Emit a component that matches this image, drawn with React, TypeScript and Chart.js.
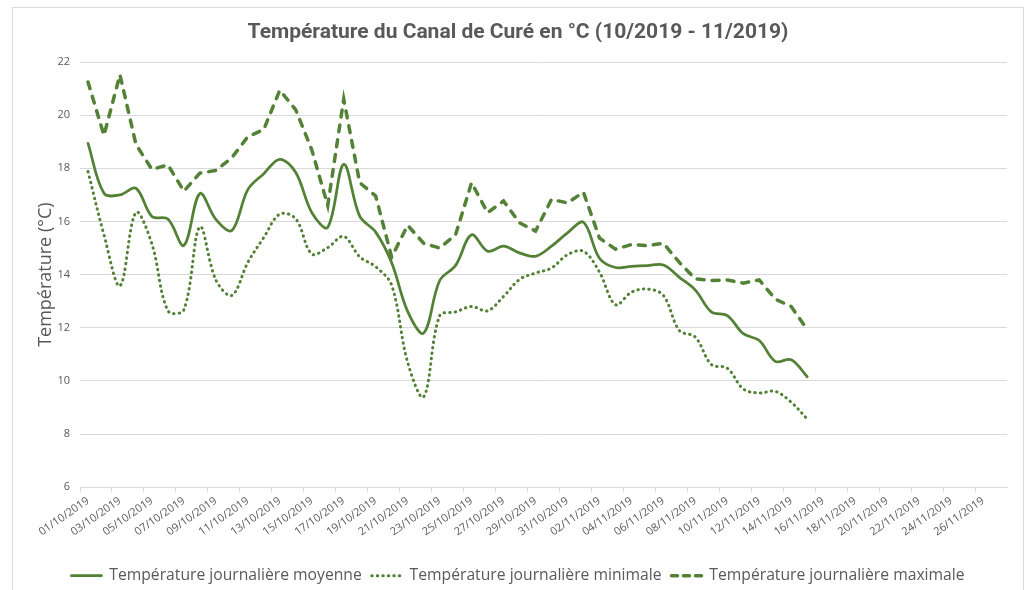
import React, { useEffect, useRef } from "react";
import { Chart, registerables } from "chart.js";

Chart.register(...registerables);

const dates = [
  "01/10/2019", "02/10/2019", "03/10/2019", "04/10/2019", "05/10/2019", "06/10/2019",
  "07/10/2019", "08/10/2019", "09/10/2019", "10/10/2019", "11/10/2019", "12/10/2019",
  "13/10/2019", "14/10/2019", "15/10/2019", "16/10/2019", "17/10/2019", "18/10/2019",
  "19/10/2019", "20/10/2019", "21/10/2019", "22/10/2019", "23/10/2019", "24/10/2019",
  "25/10/2019", "26/10/2019", "27/10/2019", "28/10/2019", "29/10/2019", "30/10/2019",
  "31/10/2019", "01/11/2019", "02/11/2019", "03/11/2019", "04/11/2019", "05/11/2019",
  "06/11/2019", "07/11/2019", "08/11/2019", "09/11/2019", "10/11/2019", "11/11/2019",
  "12/11/2019", "13/11/2019", "14/11/2019", "15/11/2019", "16/11/2019", "17/11/2019",
  "18/11/2019", "19/11/2019", "20/11/2019", "21/11/2019", "22/11/2019", "23/11/2019",
  "24/11/2019", "25/11/2019", "26/11/2019", "27/11/2019",
];

const moyenne = [
  18.94, 17.06, 17.0, 17.25, 16.19, 16.09, 15.1, 17.05, 16.08, 15.66,
  17.2, 17.8, 18.34, 17.84, 16.34, 15.78, 18.15, 16.2, 15.6, 14.45,
  12.62, 11.8, 13.77, 14.35, 15.5, 14.88, 15.07, 14.82, 14.69, 15.07,
  15.57, 15.97, 14.62, 14.27, 14.31, 14.34, 14.36, 13.9, 13.42, 12.6,
  12.46, 11.78, 11.52, 10.74, 10.8, 10.16,
];

const minimale = [
  17.88, 15.5, 13.58, 16.34, 15.15, 12.64, 12.68, 15.8, 13.8, 13.22,
  14.46, 15.4, 16.28, 16.1, 14.78, 15.02, 15.44, 14.67, 14.3, 13.6,
  10.7, 9.4, 12.45, 12.6, 12.8, 12.64, 13.18, 13.82, 14.06, 14.25,
  14.75, 14.88, 14.1, 12.87, 13.34, 13.46, 13.22, 11.9, 11.65, 10.62,
  10.48, 9.7, 9.55, 9.61, 9.2, 8.57,
];

const maximale = [
  21.25, 19.24, 21.52, 18.9, 17.96, 18.13, 17.14, 17.82, 17.92, 18.4,
  19.19, 19.46, 20.94, 20.2, 18.7, 16.6, 20.6, 17.46, 16.96, 14.66,
  15.86, 15.18, 15.0, 15.5, 17.46, 16.33, 16.77, 15.95, 15.64, 16.83,
  16.7, 17.1, 15.38, 14.96, 15.13, 15.09, 15.18, 14.46, 13.84, 13.78,
  13.8, 13.68, 13.8, 13.08, 12.8, 11.93,
];

const seriesNames = [
  "Température journalière moyenne",
  "Température journalière minimale",
  "Température journalière maximale",
];

const chartTitle = "Température du Canal de Curé en °C (10/2019 - 11/2019)";
const yAxisTitle = "Température (°C)";
const yMin = 6;
const yMax = 22;
const yStep = 2;

const GREEN = "#538135";
const GRID = "#d9d9d9";
const TEXT = "#595959";

const legendDashes = [[], [0.5, 5], [6, 6]];

export default function App() {
  const ref = useRef<HTMLCanvasElement>(null);

  useEffect(() => {
    if (!ref.current) return;
    const chart = new Chart(ref.current, {
      type: "line",
      data: {
        labels: dates,
        datasets: [
          {
            label: seriesNames[0],
            data: moyenne,
            borderColor: GREEN,
            backgroundColor: GREEN,
            borderWidth: 2.75,
            borderCapStyle: "round",
            tension: 0.35,
            pointRadius: 0,
            fill: false,
          },
          {
            label: seriesNames[1],
            data: minimale,
            borderColor: GREEN,
            backgroundColor: GREEN,
            borderWidth: 3,
            borderDash: [0.5, 5],
            borderCapStyle: "round",
            tension: 0.35,
            pointRadius: 0,
            fill: false,
          },
          {
            label: seriesNames[2],
            data: maximale,
            borderColor: GREEN,
            backgroundColor: GREEN,
            borderWidth: 3.5,
            borderDash: [7, 8],
            borderCapStyle: "round",
            tension: 0,
            pointRadius: 0,
            fill: false,
          },
        ],
      },
      options: {
        responsive: false,
        animation: false,
        devicePixelRatio: 1,
        layout: { padding: { left: 13, right: 1, top: 0, bottom: -3.5 } },
        plugins: {
          tooltip: { enabled: false },
          title: {
            display: true,
            text: chartTitle,
            color: TEXT,
            font: { family: "Roboto", size: 21, weight: "bold" },
            padding: { top: 20.4, bottom: 16.4 },
          },
          legend: {
            display: true,
            position: "bottom",
            labels: {
              usePointStyle: true,
              pointStyle: "line",
              pointStyleWidth: 30,
              color: TEXT,
              font: { family: "Open Sans", size: 15.7 },
              padding: 10,
              generateLabels: (c: any) => {
                const items = (Chart as any).defaults.plugins.legend.labels.generateLabels(c);
                return items.map((it: any) => {
                  const ds: any = c.data.datasets[it.datasetIndex];
                  return {
                    ...it,
                    pointStyle: "line",
                    strokeStyle: ds.borderColor,
                    fillStyle: ds.borderColor,
                    lineWidth: ds.borderWidth,
                    lineCap: ds.borderCapStyle,
                    lineDash: legendDashes[it.datasetIndex],
                  };
                });
              },
            },
          },
        },
        scales: {
          x: {
            offset: true,
            grid: {
              display: true,
              offset: true,
              drawOnChartArea: false,
              drawTicks: true,
              tickLength: 5,
              color: (ctx: any) => (ctx.index % 2 === 0 ? GRID : "rgba(0,0,0,0)"),
            },
            border: { display: true, color: GRID, width: 1 },
            ticks: {
              autoSkip: false,
              minRotation: 35,
              maxRotation: 35,
              padding: 2,
              color: TEXT,
              font: { family: "Open Sans", size: 11 },
              callback: (_v: any, i: number) => (i % 2 === 0 ? dates[i] : ""),
            },
            afterFit: (s: any) => {
              s.height = 70.5;
            },
          },
          y: {
            min: yMin,
            max: yMax,
            ticks: {
              stepSize: yStep,
              padding: 10,
              color: TEXT,
              font: { family: "Open Sans", size: 11 },
            },
            grid: { color: GRID, drawTicks: false, lineWidth: 1 },
            border: { display: false },
            title: {
              display: true,
              text: yAxisTitle,
              color: TEXT,
              font: { family: "Open Sans", size: 18 },
              padding: { top: 22, bottom: 0 },
            },
            afterFit: (s: any) => {
              s.width = 67;
            },
          },
          yRight: {
            position: "right",
            display: true,
            min: yMin,
            max: yMax,
            grid: { display: false, drawTicks: false },
            border: { display: false },
            ticks: { display: false },
            afterFit: (s: any) => {
              s.width = 16;
            },
          },
        },
      },
    } as any);
    return () => chart.destroy();
  }, []);

  return (
    <div
      style={{
        position: "fixed",
        left: 0,
        top: 0,
        width: 1024,
        height: 590,
        background: "#ffffff",
        overflow: "hidden",
      }}
    >
      <canvas ref={ref} width={1024} height={590} style={{ display: "block" }} />
      <div
        style={{
          position: "absolute",
          left: 12,
          top: 7,
          width: 1010,
          height: 600,
          border: "1px solid #d9d9d9",
          pointerEvents: "none",
        }}
      />
    </div>
  );
}
